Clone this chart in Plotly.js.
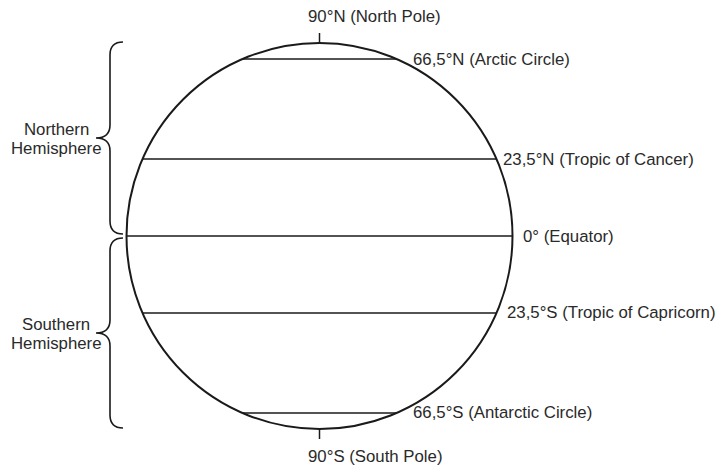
<!DOCTYPE html>
<html>
<head>
<meta charset="utf-8">
<script src="https://cdn.plot.ly/plotly-3.0.1.min.js"></script>
<style>html,body{margin:0;padding:0;background:#fff;}#chart{width:719px;height:465px;}</style>
</head>
<body>
<div id="chart"></div>
<script>
// ---- data ----
const latitudes = [66.5, 23.5, 0, -23.5, -66.5];
const latLabels = ["66,5°N (Arctic Circle)", "23,5°N (Tropic of Cancer)", "0° (Equator)", "23,5°S (Tropic of Capricorn)", "66,5°S (Antarctic Circle)"];
const poleLatitudes = [90, -90];
const poleLabels = ["90°N (North Pole)", "90°S (South Pole)"];
const hemisphereNames = ["Northern", "Southern"];
const hemisphereWord = "Hemisphere";

// ---- layout geometry (pixels) ----
const W = 719, H = 465;
const cx = 319.5, cy = 236, R = 193;
const labelPad = [15, 5, 8, 9, 15];
const ink = "#1a1a1a", textCol = "#2a2a2a";
const font = {family: "Liberation Sans, Arial, sans-serif", size: 16.8, color: textCol};
const rad = d => d * Math.PI / 180;
const yOf = lat => cy - R * Math.sin(rad(lat));
const halfW = lat => R * Math.cos(rad(lat));

const traces = latitudes.map(lat => ({
  type: "scatter", mode: "lines",
  x: [cx - halfW(lat), cx + halfW(lat)],
  y: [yOf(lat), yOf(lat)],
  line: {color: ink, width: 1.6},
  hoverinfo: "skip", showlegend: false
}));

const shapes = [{
  type: "circle", xref: "x", yref: "y",
  x0: cx - R, x1: cx + R, y0: cy - R, y1: cy + R,
  line: {color: ink, width: 2}
}];
// pole ticks
poleLatitudes.forEach(lat => {
  const s = Math.sign(lat);
  shapes.push({type: "line", xref: "x", yref: "y", x0: cx, x1: cx,
    y0: yOf(lat), y1: yOf(lat) - s * 10, line: {color: ink, width: 1.5}});
});
// braces
function brace(top, bot) {
  const endX = 123, spX = 110, tipX = 96, r = 13, mid = (top + bot) / 2;
  return `M ${endX} ${top} Q ${spX} ${top} ${spX} ${top + r} L ${spX} ${mid - r} ` +
         `Q ${spX} ${mid} ${tipX} ${mid} Q ${spX} ${mid} ${spX} ${mid + r} ` +
         `L ${spX} ${bot - r} Q ${spX} ${bot} ${endX} ${bot}`;
}
const braceSpans = [[yOf(90) - 1, yOf(0) - 2], [yOf(0) + 2, yOf(-90) - 1]];
braceSpans.forEach(([t, b]) => shapes.push({type: "path", xref: "x", yref: "y",
  path: brace(t, b), line: {color: ink, width: 1.6}}));

const annotations = [];
latitudes.forEach((lat, i) => {
  annotations.push({x: cx + halfW(lat) + labelPad[i], y: yOf(lat), xref: "x", yref: "y",
    text: latLabels[i], showarrow: false, xanchor: "left", yanchor: "middle", font: font});
});
poleLatitudes.forEach((lat, i) => {
  const s = Math.sign(lat);
  annotations.push({x: cx - 14, y: yOf(lat) - s * 27, xref: "x", yref: "y",
    text: poleLabels[i], showarrow: false, xanchor: "left", yanchor: "middle", font: font});
});
braceSpans.forEach(([t, b], i) => {
  const mid = (t + b) / 2;
  annotations.push({x: 56, y: mid - 9, xref: "x", yref: "y", text: hemisphereNames[i],
    showarrow: false, xanchor: "center", yanchor: "middle", font: font});
  annotations.push({x: 56, y: mid + 10, xref: "x", yref: "y", text: hemisphereWord,
    showarrow: false, xanchor: "center", yanchor: "middle", font: font});
});

const layout = {
  width: W, height: H,
  margin: {l: 0, r: 0, t: 0, b: 0},
  paper_bgcolor: "#fff", plot_bgcolor: "#fff",
  xaxis: {range: [0, W], visible: false, fixedrange: true},
  yaxis: {range: [H, 0], visible: false, fixedrange: true},
  shapes: shapes, annotations: annotations, showlegend: false
};
Plotly.newPlot("chart", traces, layout, {staticPlot: true, displayModeBar: false});
</script>
</body>
</html>
